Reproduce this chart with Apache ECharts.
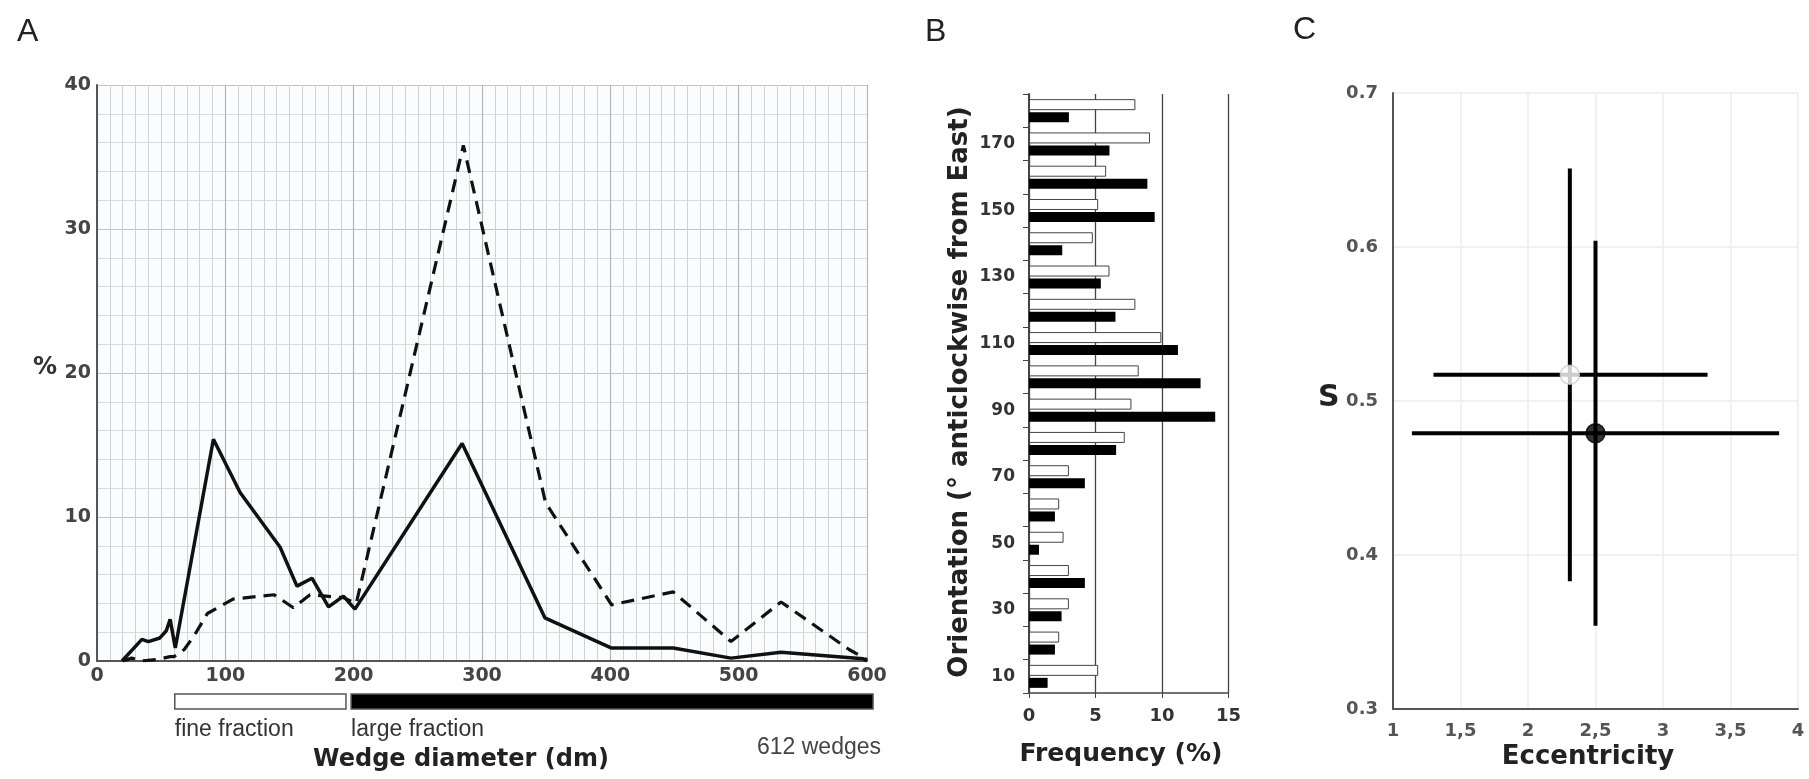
<!DOCTYPE html>
<html><head><meta charset="utf-8">
<script src="https://cdn.jsdelivr.net/npm/echarts@6/dist/echarts.min.js"></script>
<style>html,body{margin:0;padding:0;background:#fff}#main{width:1809px;height:779px}</style>
</head><body><div id="main"></div>
<script>
// ---------- Panel A: wedge diameter distribution ----------
const aSolid = [[19.5,0],[35,1.5],[40,1.35],[49,1.6],[54,2.1],[57,2.9],[61,0.9],[90.7,15.4],[111.5,11.7],[142.7,7.9],[155.8,5.2],[167.5,5.75],[180.4,3.76],[192,4.5],[201,3.6],[284.5,15.1],[349,3.0],[401,0.9],[449,0.9],[494,0.2],[533,0.6],[597,0.15],[600,0]];
const aDashed = [[20,0],[27,0.2],[35,0],[47,0.1],[57,0.3],[60,0.3],[68,0.8],[76,1.8],[86,3.3],[106,4.3],[138,4.6],[153,3.7],[166,4.6],[192,4.4],[202,4.0],[285.5,35.8],[349.5,11.0],[401,3.9],[449,4.8],[494,1.35],[533,4.1],[586,0.8],[600,0.1]];
const fractionNames = ['fine fraction','large fraction'];
const fractionStart = [60.6,198];
const fractionEnd = [194,604.7];
const fractionFill = ['#ffffff','#000000'];

// ---------- Panel B: orientation frequency ----------
const bCategories = ['10','20','30','40','50','60','70','80','90','100','110','120','130','140','150','160','170','180'];
const bWhite = [5.2,2.27,3.0,3.0,2.6,2.27,3.0,7.2,7.7,8.25,9.95,8.0,6.05,4.8,5.2,5.8,9.1,8.0];
const bBlack = [1.4,1.95,2.45,4.2,0.75,1.95,4.2,6.55,14.0,12.9,11.2,6.5,5.4,2.5,9.45,8.9,6.05,3.0];

// ---------- Panel C: eccentricity vs S ----------
const cNames = ['fine fraction','large fraction'];
const cX = [2.31,2.50];
const cY = [0.517,0.479];
const cXLow = [1.30,1.14];
const cXHigh = [3.33,3.86];
const cYLow = [0.383,0.354];
const cYHigh = [0.651,0.604];
const cFill = ['#ffffff','#000000'];
const cBorder = ['#cccccc','#000000'];

const LS = 'Liberation Sans, Arial, sans-serif';
const DJ = 'DejaVu Sans, sans-serif';

const chart = echarts.init(document.getElementById('main'), null, {renderer:'canvas'});

function txt(text, x, y, font, fill, align, valign, rot){
  return {type:'text', x:x, y:y, rotation: rot||0, z:50,
    style:{text:text, x:0, y:0, font:font, fill:fill||'#222',
      align:align||'left', verticalAlign:valign||'middle',
      textAlign:align||'left', textVerticalAlign:valign||'middle'}};
}

const option = {
  backgroundColor:'#ffffff',
  animation:false,
  grid:[
    {left:97, top:85, width:770, height:576, show:true, backgroundColor:'#fbfcfd', borderWidth:0, outerBoundsMode:'none'},
    {left:97, top:694, width:770, height:15, outerBoundsMode:'none'},
    {left:1029, top:94, width:199.5, height:599, outerBoundsMode:'none'},
    {left:1393, top:93, width:405, height:616, outerBoundsMode:'none'}
  ],
  xAxis:[
    {gridIndex:0, type:'value', min:0, max:600, interval:100,
      axisLine:{show:true, onZero:false, lineStyle:{color:'#555', width:2}},
      axisTick:{show:false},
      axisLabel:{fontFamily:DJ, fontWeight:'bold', fontSize:19, color:'#444', margin:6},
      splitLine:{show:true, lineStyle:{color:'#b5b5b5', width:1.2}},
      minorTick:{show:false, splitNumber:10},
      minorSplitLine:{show:true, lineStyle:{color:'#d2d2d2', width:1}}},
    {gridIndex:1, type:'value', min:0, max:600, show:false},
    {gridIndex:2, type:'value', min:0, max:15, interval:5,
      axisLine:{show:true, onZero:false, lineStyle:{color:'#444', width:1.5}},
      axisTick:{show:true, length:5, lineStyle:{color:'#444'}},
      axisLabel:{fontFamily:DJ, fontWeight:'bold', fontSize:18, color:'#333', margin:14},
      splitLine:{show:true, lineStyle:{color:'#444', width:1.3}}},
    {gridIndex:3, type:'value', min:1, max:4, interval:0.5,
      axisLine:{show:true, onZero:false, lineStyle:{color:'#555', width:2}},
      axisTick:{show:false},
      axisLabel:{fontFamily:DJ, fontWeight:'bold', fontSize:18, color:'#555', margin:13,
        formatter:function(v){return String(Math.round(v*10)/10).replace('.',',');}},
      splitLine:{show:true, lineStyle:{color:'#ececec', width:1.5}}}
  ],
  yAxis:[
    {gridIndex:0, type:'value', min:0, max:40, interval:10,
      axisLine:{show:true, onZero:false, lineStyle:{color:'#555', width:2}},
      axisTick:{show:false},
      axisLabel:{fontFamily:DJ, fontWeight:'bold', fontSize:19, color:'#444', margin:6},
      splitLine:{show:true, lineStyle:{color:'#c4c4c4', width:1.2}},
      minorTick:{show:false, splitNumber:5},
      minorSplitLine:{show:true, lineStyle:{color:'#dadada', width:1}}},
    {gridIndex:1, type:'value', min:0, max:1, show:false},
    {gridIndex:2, type:'category', data:bCategories, boundaryGap:true,
      axisLine:{show:true, onZero:false, lineStyle:{color:'#444', width:2}},
      axisTick:{show:true, interval:0, length:6, alignWithLabel:false, lineStyle:{color:'#444'}},
      axisLabel:{interval:1, fontFamily:DJ, fontWeight:'bold', fontSize:17, color:'#333', margin:14},
      splitLine:{show:false}},
    {gridIndex:3, type:'value', min:0.3, max:0.7, interval:0.1,
      axisLine:{show:true, onZero:false, lineStyle:{color:'#555', width:2}},
      axisTick:{show:false},
      axisLabel:{fontFamily:DJ, fontWeight:'bold', fontSize:18, color:'#555', margin:15,
        formatter:function(v){return v.toFixed(1);}},
      splitLine:{show:true, lineStyle:{color:'#ececec', width:1.5}}}
  ],
  series:[
    {name:'solid curve', type:'line', xAxisIndex:0, yAxisIndex:0, data:aSolid, symbol:'none',
      lineStyle:{color:'#111', width:3.5}, z:4},
    {name:'dashed curve', type:'line', xAxisIndex:0, yAxisIndex:0, data:aDashed, symbol:'none',
      lineStyle:{color:'#111', width:3.2, type:[13,8]}, z:3},
    {name:'fractions', type:'custom', xAxisIndex:1, yAxisIndex:1,
      data:fractionStart.map(function(s,i){return [s, fractionEnd[i]];}),
      renderItem:function(params, api){
        const i = params.dataIndex;
        const s = api.coord([api.value(0), 1]);
        const e = api.coord([api.value(1), 0]);
        return {type:'group', children:[
          {type:'rect', shape:{x:s[0], y:s[1], width:e[0]-s[0], height:e[1]-s[1]},
            style:{fill:fractionFill[i], stroke:'#555', lineWidth:1.5}},
          {type:'text', x:s[0], y:e[1]+21,
            style:{text:fractionNames[i], font:'23px '+LS, fill:'#333',
              align:'left', verticalAlign:'middle', textAlign:'left', textVerticalAlign:'middle'}}
        ]};
      }},
    {name:'fine fraction', type:'bar', xAxisIndex:2, yAxisIndex:2, data:bWhite, barWidth:11, barGap:'18%',
      itemStyle:{color:'#ffffff', borderColor:'#444', borderWidth:1}},
    {name:'large fraction', type:'bar', xAxisIndex:2, yAxisIndex:2, data:bBlack, barWidth:10,
      itemStyle:{color:'#000000'}},
    {name:'error bars', type:'custom', xAxisIndex:3, yAxisIndex:3,
      data:cX.map(function(x,i){return [x, cY[i], cXLow[i], cXHigh[i], cYLow[i], cYHigh[i]];}),
      renderItem:function(params, api){
        const x = api.value(0), y = api.value(1);
        const h1 = api.coord([api.value(2), y]), h2 = api.coord([api.value(3), y]);
        const v1 = api.coord([x, api.value(4)]), v2 = api.coord([x, api.value(5)]);
        const st = {stroke:'#000', lineWidth:4};
        return {type:'group', children:[
          {type:'line', shape:{x1:h1[0], y1:h1[1], x2:h2[0], y2:h2[1]}, style:st},
          {type:'line', shape:{x1:v1[0], y1:v1[1], x2:v2[0], y2:v2[1]}, style:st}
        ]};
      }, z:3},
    {name:'means', type:'scatter', xAxisIndex:3, yAxisIndex:3, symbolSize:19, z:5,
      data:cX.map(function(x,i){return {name:cNames[i], value:[x, cY[i]],
        itemStyle:{color:cFill[i], borderColor:cBorder[i], borderWidth:1.5}};})}
  ],
  graphic:[
    txt('A', 17, 32, '32px '+LS, '#222'),
    txt('B', 925, 32, '32px '+LS, '#222'),
    txt('C', 1293, 30, '32px '+LS, '#222'),
    txt('%', 33, 368, 'bold 24px '+DJ, '#333'),
    txt('S', 1318, 398, 'bold 30px '+DJ, '#222'),
    txt('Wedge diameter (dm)', 461, 760, 'bold 24px '+DJ, '#222', 'center'),
    txt('612 wedges', 757, 748, '23px '+LS, '#444'),
    txt('Frequency (%)', 1121, 754, 'bold 25px '+DJ, '#222', 'center'),
    txt('Eccentricity', 1588, 757, 'bold 26px '+DJ, '#222', 'center'),
    txt('Orientation (° anticlockwise from East)', 960, 392, 'bold 26px '+DJ, '#222', 'center', 'middle', Math.PI/2)
  ]
};
chart.setOption(option);
</script></body></html>
